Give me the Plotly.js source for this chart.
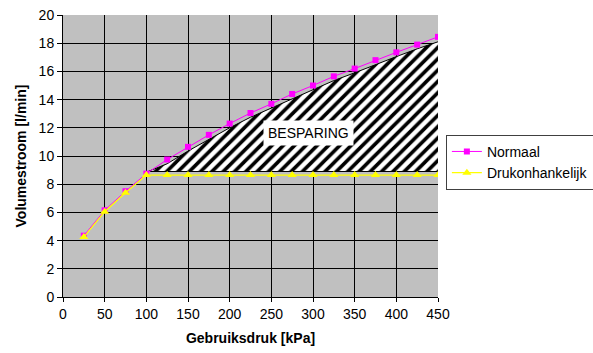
<!DOCTYPE html>
<html>
<head>
<meta charset="utf-8">
<script src="https://cdn.plot.ly/plotly-3.0.1.min.js"></script>
<style>html,body{margin:0;padding:0;background:#fff;overflow:hidden;}#chart{width:593px;height:353px;}</style>
</head>
<body>
<div id="chart"></div>
<script>
// Data
const druk = [25, 50, 75, 100, 125, 150, 175, 200, 225, 250, 275, 300, 325, 350, 375, 400, 425, 450];
const normaal = [4.35, 6.15, 7.5, 8.75, 9.75, 10.65, 11.5, 12.3, 13.05, 13.7, 14.4, 15.0, 15.65, 16.2, 16.8, 17.35, 17.9, 18.45];
const drukonhankelijk = [4.25, 6.05, 7.4, 8.65, 8.65, 8.65, 8.65, 8.65, 8.65, 8.65, 8.65, 8.65, 8.65, 8.65, 8.65, 8.65, 8.65, 8.65];
const besparingX = [102, 125, 150, 175, 200, 225, 250, 275, 300, 325, 350, 375, 400, 425, 450];
const besparingTop = [8.9, 9.45, 10.35, 11.2, 12.0, 12.75, 13.4, 14.1, 14.7, 15.35, 15.9, 16.5, 17.05, 17.6, 18.1];
const besparingBottomX = [102, 450];
const besparingBottom = [8.9, 8.9];
const xTicks = [0, 50, 100, 150, 200, 250, 300, 350, 400, 450];
const yTicks = [0, 2, 4, 6, 8, 10, 12, 14, 16, 18, 20];

const traces = [
  {x: besparingBottomX, y: besparingBottom, mode: 'lines', line: {color: '#000', width: 1}, showlegend: false, hoverinfo: 'skip'},
  {x: besparingX, y: besparingTop, mode: 'lines', line: {color: '#000', width: 1}, fill: 'tonexty',
   fillcolor: 'white',
   fillpattern: {shape: '/', size: 8, solidity: 0.45, fgcolor: '#000', bgcolor: '#fff'},
   showlegend: false, hoverinfo: 'skip'},
  {x: druk, y: normaal, name: 'Normaal', mode: 'lines+markers',
   line: {color: '#FF00FF', width: 1}, marker: {symbol: 'square', size: 6, color: '#FF00FF'}},
  {x: druk, y: drukonhankelijk, name: 'Drukonhankelijk', mode: 'lines+markers',
   line: {color: '#FFFF00', width: 1.3}, marker: {symbol: 'triangle-up', size: 8, color: '#FFFF00'}}
];

const layout = {
  width: 593, height: 353,
  margin: {l: 63, r: 155, t: 15, b: 56, autoexpand: false},
  paper_bgcolor: '#fff', plot_bgcolor: '#C0C0C0',
  font: {family: 'Liberation Sans, Arial, sans-serif', size: 14, color: '#000'},
  xaxis: {
    range: [0, 450], tickvals: xTicks, ticks: 'outside', ticklen: 4, tickcolor: '#000',
    showgrid: true, gridcolor: '#000', gridwidth: 1, zeroline: false,
    showline: true, linecolor: '#000', linewidth: 1, mirror: false,
    tickfont: {size: 14},
    title: {text: '<b>Gebruiksdruk [kPa]</b>', font: {size: 14}, standoff: 12}
  },
  yaxis: {
    range: [0, 20], tickvals: yTicks, ticks: 'outside', ticklen: 5, tickcolor: '#000',
    showgrid: true, gridcolor: '#000', gridwidth: 1, zeroline: false,
    showline: true, linecolor: '#000', linewidth: 1,
    tickfont: {size: 14},
    title: {text: '<b>Volumestroom [l/min]</b>', font: {size: 14}, standoff: 8}
  },
  legend: {x: 1.021, y: 0.575, xanchor: 'left', yanchor: 'top', bgcolor: '#fff',
    bordercolor: '#404040', borderwidth: 1, font: {size: 14}, itemwidth: 30,
    traceorder: 'normal', tracegroupgap: 0},
  annotations: [{x: 294, y: 11.65, xref: 'x', yref: 'y', text: 'BESPARING', showarrow: false,
    bgcolor: '#fff', font: {size: 14}, borderpad: 4}]
};

Plotly.newPlot('chart', traces, layout, {displayModeBar: false, staticPlot: true});
</script>
</body>
</html>
